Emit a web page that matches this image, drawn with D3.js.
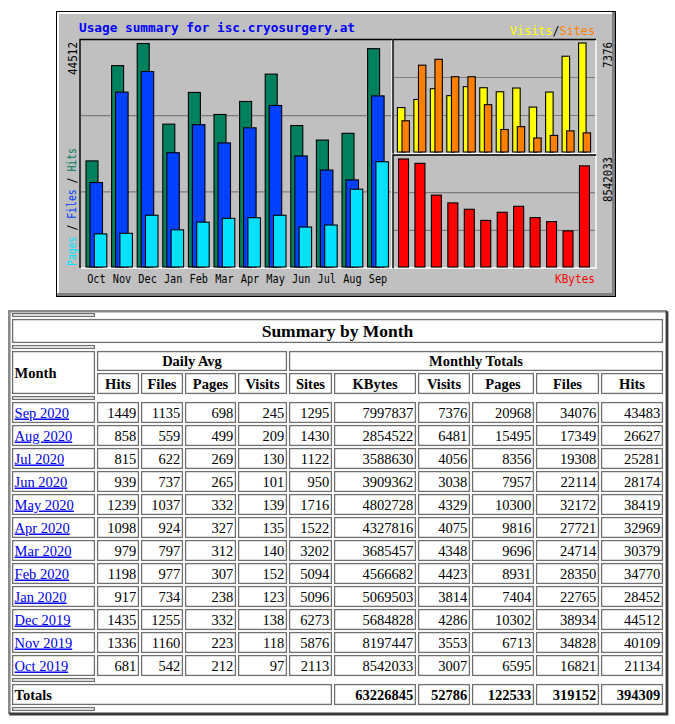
<!DOCTYPE html>
<html>
<head>
<meta charset="utf-8">
<script src="https://cdn.jsdelivr.net/npm/d3@7/dist/d3.min.js"></script>
<style>
body { margin: 0; background: #fff; }
svg { display: block; }
</style>
</head>
<body>
<svg id="page" width="675" height="724"></svg>
<script>
// table rows, newest first
const months = ["Sep 2020","Aug 2020","Jul 2020","Jun 2020","May 2020","Apr 2020","Mar 2020","Feb 2020","Jan 2020","Dec 2019","Nov 2019","Oct 2019"];
const dailyHits   = [1449, 858, 815, 939, 1239, 1098, 979, 1198, 917, 1435, 1336, 681];
const dailyFiles  = [1135, 559, 622, 737, 1037, 924, 797, 977, 734, 1255, 1160, 542];
const dailyPages  = [698, 499, 269, 265, 332, 327, 312, 307, 238, 332, 223, 212];
const dailyVisits = [245, 209, 130, 101, 139, 135, 140, 152, 123, 138, 118, 97];
const sites  = [1295, 1430, 1122, 950, 1716, 1522, 3202, 5094, 5096, 6273, 5876, 2113];
const kbytes = [7997837, 2854522, 3588630, 3909362, 4802728, 4327816, 3685457, 4566682, 5069503, 5684828, 8197447, 8542033];
const visits = [7376, 6481, 4056, 3038, 4329, 4075, 4348, 4423, 3814, 4286, 3553, 3007];
const pages  = [20968, 15495, 8356, 7957, 10300, 9816, 9696, 8931, 7404, 10302, 6713, 6595];
const files  = [34076, 17349, 19308, 22114, 32172, 27721, 24714, 28350, 22765, 38934, 34828, 16821];
const hits   = [43483, 26627, 25281, 28174, 38419, 32969, 30379, 34770, 28452, 44512, 40109, 21134];
const totals = [63226845, 52786, 122533, 319152, 394309]; // KBytes, Visits, Pages, Files, Hits

// graph labels, oldest first
const chartMonths = ["Oct","Nov","Dec","Jan","Feb","Mar","Apr","May","Jun","Jul","Aug","Sep"];
const subHeads = ["Hits","Files","Pages","Visits","Sites","KBytes","Visits","Pages","Files","Hits"];

const HIT = "#00805c", FILE = "#0040ff", PAGE = "#00e0ff",
      VISIT = "#ffff00", SITE = "#ff8000", KB = "#ff0000";

const svg = d3.select("#page");
const rev = a => a.slice().reverse();

// ---------- usage graph ----------
const chart = svg.append("g");
chart.append("rect").attr("x", 56).attr("y", 11).attr("width", 560).attr("height", 286).attr("fill", "#000");
chart.append("rect").attr("x", 57).attr("y", 12).attr("width", 558).attr("height", 284).attr("fill", "#808080");
chart.append("rect").attr("x", 57).attr("y", 12).attr("width", 555).attr("height", 281).attr("fill", "#fff");
chart.append("rect").attr("x", 59).attr("y", 14).attr("width", 553).attr("height", 279).attr("fill", "#c0c0c0");

// inset boxes: black top/left, white bottom/right, grid at thirds
function box(x1, y1, x2, y2) {
  const h = y2 - y1;
  [1, 2].forEach(k => {
    chart.append("line").attr("x1", x1 + 1).attr("x2", x2 - 1)
      .attr("y1", y1 + h * k / 3).attr("y2", y1 + h * k / 3)
      .attr("stroke", "#7c7c7c").attr("stroke-width", 1.2);
  });
  chart.append("path").attr("d", `M${x1},${y2}V${y1}H${x2}`).attr("fill", "none").attr("stroke", "#000").attr("stroke-width", 1.4);
  chart.append("path").attr("d", `M${x1 + 1},${y2}H${x2}V${y1 + 1}`).attr("fill", "none").attr("stroke", "#fff").attr("stroke-width", 1.4);
}
box(80, 39.5, 392, 268);
box(393, 39.5, 596, 153.5);
box(393, 155, 596, 268);

const maxHits = d3.max(hits);
const maxVS = d3.max(visits.concat(sites));
const maxKB = d3.max(kbytes);

const xL = d3.scaleBand().domain(chartMonths).range([86, 86 + 12 * 25.6]);
const xV = d3.scaleBand().domain(chartMonths).range([397.4, 397.4 + 12 * 16.47]);
const xK = d3.scaleBand().domain(chartMonths).range([398.5, 398.5 + 12 * 16.45]);
const yL = d3.scaleLinear().domain([0, maxHits]).range([267, 43.5]);
const yV = d3.scaleLinear().domain([0, maxVS]).range([152, 43]);
const yK = d3.scaleLinear().domain([0, maxKB]).range([267, 159]);

function bars(data, xs, y, off, w, color) {
  chart.append("g").selectAll("rect").data(data).join("rect")
    .attr("x", (d, i) => xs(chartMonths[i]) + off)
    .attr("y", d => y(d))
    .attr("width", w)
    .attr("height", d => y(0) - y(d))
    .attr("fill", color)
    .attr("stroke", "#000")
    .attr("stroke-width", 1.1);
}
bars(rev(hits), xL, yL, 0, 12, HIT);
bars(rev(files), xL, yL, 4, 12.5, FILE);
bars(rev(pages), xL, yL, 8.3, 12.5, PAGE);
bars(rev(visits), xV, yV, 0, 7.5, VISIT);
bars(rev(sites), xV, yV, 4.6, 7.4, SITE);
bars(rev(kbytes), xK, yK, 0, 10, KB);

const mono = "DejaVu Sans Mono, monospace";

chart.append("text").attr("x", 79).attr("y", 32)
  .attr("font-family", mono).attr("font-weight", "bold").attr("font-size", 12.5)
  .attr("fill", "#0000ff").attr("textLength", 276).attr("lengthAdjust", "spacingAndGlyphs")
  .text("Usage summary for isc.cryosurgery.at");

chart.append("g").selectAll("text").data(chartMonths).join("text")
  .attr("x", d => xL(d) + 10.4).attr("y", 283)
  .attr("text-anchor", "middle")
  .attr("font-family", mono).attr("font-size", 12)
  .attr("textLength", 18.5).attr("lengthAdjust", "spacingAndGlyphs")
  .attr("fill", "#000").text(d => d);

// coloured legend strings
function legend(parts, transform, anchor, len) {
  const t = chart.append("text")
    .attr("transform", transform)
    .attr("text-anchor", anchor)
    .attr("font-family", mono).attr("font-size", 12)
    .attr("textLength", len).attr("lengthAdjust", "spacingAndGlyphs");
  parts.forEach(([s, c]) => t.append("tspan").attr("fill", c).text(s));
}
legend([["Visits", VISIT], ["/", "#000"], ["Sites", SITE]], "translate(510,35)", "start", 85);
legend([["KBytes", KB]], "translate(595,283)", "end", 40);
legend([["Pages", PAGE], [" / ", "#000"], ["Files", FILE], [" / ", "#000"], ["Hits", HIT]],
  "translate(76,148) rotate(-90)", "end", 118);

function upLabel(str, x, y, len) {
  chart.append("text").attr("transform", `translate(${x},${y}) rotate(-90)`)
    .attr("text-anchor", "end").attr("font-family", mono).attr("font-size", 12)
    .attr("textLength", len).attr("lengthAdjust", "spacingAndGlyphs")
    .attr("fill", "#000").text(str);
}
upLabel(String(maxHits), 77, 42, 33);
upLabel(String(maxVS), 612, 42, 26);
upLabel(String(maxKB), 612, 157, 45);

// ---------- summary table ----------
const table = svg.append("g");
const serif = "Liberation Serif, Times New Roman, serif";
const cols = [[12, 95], [97, 139], [141, 183], [185, 236], [238, 287], [289, 332],
              [334, 416], [418, 470], [472, 534], [536, 599], [601, 663]];

// outset outer border
table.append("path").attr("d", "M9.3,714V311.3H667").attr("fill", "none").attr("stroke", "#8a8a8a").attr("stroke-width", 2.6);
table.append("path").attr("d", "M9.3,714H667V311.3").attr("fill", "none").attr("stroke", "#3a3a3a").attr("stroke-width", 2.8);

function cell(c0, c1, y0, y1) {
  const x0 = cols[c0][0], x1 = cols[c1][1];
  table.append("rect").attr("x", x0 + 0.6).attr("y", y0 + 0.6)
    .attr("width", x1 - x0 - 1.2).attr("height", y1 - y0 - 1.2)
    .attr("fill", "#fff").attr("stroke", "#707070").attr("stroke-width", 1.3);
  return { x0, x1, y0, y1 };
}
function label(str, x, y, o = {}) {
  return table.append("text").attr("x", x).attr("y", y)
    .attr("font-family", serif).attr("font-size", o.size || 14.5)
    .attr("font-weight", o.bold ? "bold" : "normal")
    .attr("text-anchor", o.anchor || "start")
    .attr("fill", o.fill || "#000")
    .attr("text-decoration", o.link ? "underline" : null)
    .text(str);
}

cell(0, 0, 313, 317);
const tc = cell(0, 10, 319, 343);
label("Summary by Month", (tc.x0 + tc.x1) / 2, 337, { size: 17.5, bold: true, anchor: "middle" });
cell(0, 0, 345, 349);

const mc = cell(0, 0, 351, 394);
label("Month", mc.x0 + 2.6, 377.5, { bold: true });
const da = cell(1, 4, 351, 371);
label("Daily Avg", (da.x0 + da.x1) / 2, 366, { bold: true, anchor: "middle" });
const mt = cell(5, 10, 351, 371);
label("Monthly Totals", (mt.x0 + mt.x1) / 2, 366, { bold: true, anchor: "middle" });
subHeads.forEach((h, i) => {
  const c = cell(i + 1, i + 1, 373, 394);
  label(h, (c.x0 + c.x1) / 2, 388.5, { bold: true, anchor: "middle" });
});
cell(0, 0, 396, 400);

const yRow = d3.scaleBand().domain(months).range([402, 402 + 12 * 23]);
const rowVals = months.map((m, i) => [dailyHits[i], dailyFiles[i], dailyPages[i], dailyVisits[i],
  sites[i], kbytes[i], visits[i], pages[i], files[i], hits[i]]);

months.forEach((m, r) => {
  const y0 = yRow(m), y1 = y0 + 21;
  const c = cell(0, 0, y0, y1);
  label(m, c.x0 + 2.6, y0 + 15.5, { link: true, fill: "#0000ee" });
  rowVals[r].forEach((v, j) => {
    const cc = cell(j + 1, j + 1, y0, y1);
    label(v, cc.x1 - 2.8, y0 + 15.5, { anchor: "end" });
  });
});

const lastY = yRow(months[months.length - 1]) + 23;
cell(0, 0, lastY, lastY + 4);
const ty = lastY + 6;
const tot = cell(0, 5, ty, ty + 21);
label("Totals", tot.x0 + 2.6, ty + 15.5, { bold: true });
totals.forEach((v, j) => {
  const cc = cell(j + 6, j + 6, ty, ty + 21);
  label(v, cc.x1 - 2.8, ty + 15.5, { bold: true, anchor: "end" });
});
cell(0, 0, ty + 23, ty + 27);
</script>
</body>
</html>
